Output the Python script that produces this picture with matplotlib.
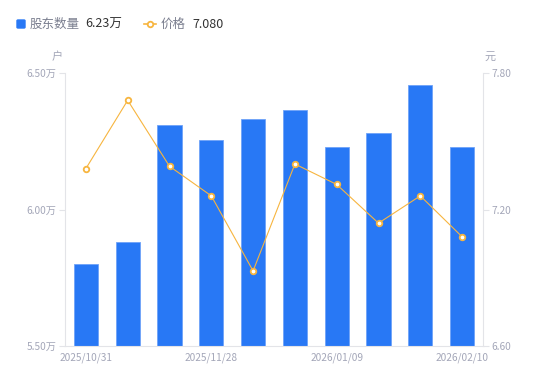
import matplotlib.pyplot as plt
from matplotlib.lines import Line2D
from matplotlib.patches import FancyBboxPatch

plt.rcParams['font.family'] = ['Noto Sans CJK SC', 'DejaVu Sans']

# 数据
dates = ['2025/10/31', '2025/11/10', '2025/11/20', '2025/11/28', '2025/12/10',
         '2025/12/20', '2026/01/09', '2026/01/20', '2026/01/31', '2026/02/10']
holders = [5.80, 5.88, 6.31, 6.255, 6.33, 6.365, 6.23, 6.28, 6.455, 6.23]  # 万户
price = [7.38, 7.68, 7.39, 7.26, 6.93, 7.40, 7.31, 7.14, 7.26, 7.08]
shown_ticks = [0, 3, 6, 9]

bar_color = '#2878F5'
line_color = '#F7B53F'
tick_color = '#A3A6B8'
axis_color = '#E3E4E8'

fig = plt.figure(figsize=(5.5, 3.81), dpi=100)
ax = fig.add_axes([65 / 550, 1 - 346 / 381, 418 / 550, 273 / 381])
ax2 = ax.twinx()

x = list(range(len(dates)))
ax.bar(x, holders, width=0.58, color=bar_color, edgecolor='#6FA3F8',
       linewidth=0.6, zorder=2)
ax.set_ylim(5.5, 6.5)
ax.set_xlim(-0.5, len(dates) - 0.5)
ax.set_yticks([5.5, 6.0, 6.5])
ax.set_yticklabels(['5.50万', '6.00万', '6.50万'])
ax.set_xticks([x[i] for i in shown_ticks])
ax.set_xticklabels([dates[i] for i in shown_ticks])

ax2.plot(x, price, color=line_color, linewidth=0.8, marker='o', markersize=4,
         markerfacecolor='white', markeredgecolor=line_color,
         markeredgewidth=1.3, zorder=3)
ax2.set_ylim(6.6, 7.8)
ax2.set_yticks([6.6, 7.2, 7.8])
ax2.set_yticklabels(['6.60', '7.20', '7.80'])

for a in (ax, ax2):
    for s in a.spines.values():
        s.set_visible(False)
    a.tick_params(colors=tick_color, labelsize=7.3, length=4, width=0.8)
    a.tick_params(axis='y', color=axis_color)
ax.tick_params(axis='x', length=0, pad=5)
ax.spines['left'].set_visible(True)
ax.spines['bottom'].set_visible(True)
ax.spines['left'].set_color(axis_color)
ax.spines['bottom'].set_color(axis_color)
ax2.spines['right'].set_visible(True)
ax2.spines['right'].set_color(axis_color)
ax.tick_params(axis='y', pad=2)
ax2.tick_params(axis='y', pad=2)

# 单位
fig.text(57 / 550, 1 - 57 / 381, '户', color=tick_color, fontsize=8,
         ha='center', va='center')
fig.text(490 / 550, 1 - 57 / 381, '元', color=tick_color, fontsize=8,
         ha='center', va='center')

# 图例
fig.patches.append(FancyBboxPatch((17 / 550, 1 - 28 / 381), 8 / 550, 8 / 381,
                                  boxstyle='round,pad=0,rounding_size=0.002',
                                  transform=fig.transFigure, color=bar_color))
fig.text(30 / 550, 1 - 24 / 381, '股东数量', color='#7A7E8F', fontsize=9,
         va='center')
fig.text(85 / 550, 1 - 24 / 381, '6.23万', color='#333333', fontsize=9,
         va='center')
fig.lines.append(Line2D([144 / 550, 156 / 550], [1 - 24 / 381] * 2,
                        transform=fig.transFigure, color=line_color,
                        linewidth=1.2))
fig.lines.append(Line2D([150 / 550], [1 - 24 / 381], transform=fig.transFigure,
                        marker='o', markersize=4, markerfacecolor='white',
                        markeredgecolor=line_color, markeredgewidth=1.3))
fig.text(161 / 550, 1 - 24 / 381, '价格', color='#7A7E8F', fontsize=9,
         va='center')
fig.text(192 / 550, 1 - 24 / 381, '7.080', color='#333333', fontsize=9,
         va='center')

fig.savefig('out.png', dpi=100)
